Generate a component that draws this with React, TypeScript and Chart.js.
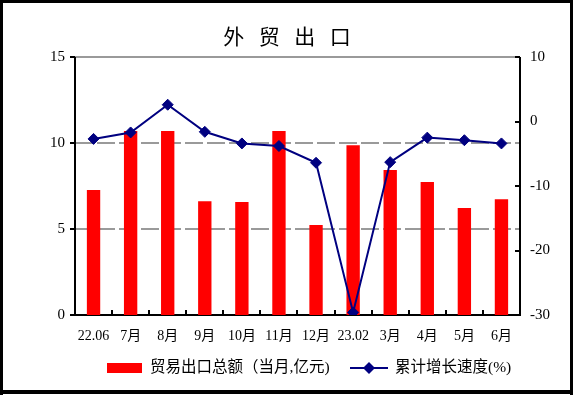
import React, { useEffect, useRef } from "react";
import { Chart, registerables } from "chart.js";

Chart.register(...registerables);

const TITLE = "外 贸 出 口";
const categories = ["22.06", "7月", "8月", "9月", "10月", "11月", "12月", "23.02", "3月", "4月", "5月", "6月"];
const exportValues = [7.27, 10.7, 10.7, 6.62, 6.57, 10.7, 5.23, 9.87, 8.43, 7.73, 6.22, 6.73];
const growthValues = [-2.7, -1.7, 2.6, -1.6, -3.4, -3.8, -6.4, -29.6, -6.3, -2.5, -2.9, -3.4];
const leftTicks = [0, 5, 10, 15];
const rightTicks = [-30, -20, -10, 0, 10];
const barLabel = "贸易出口总额（当月,亿元)";
const lineLabel = "累计增长速度(%)";

const SERIF = "'Liberation Serif', 'Noto Sans CJK SC', serif";
const CJK = "'Noto Sans CJK SC', sans-serif";
const LEGEND_FONT = "'Liberation Serif', 'Noto Sans CJK SC', serif";
const RED = "#ff0000";
const NAVY = "#000080";

const drawDiamond = (ctx: CanvasRenderingContext2D, x: number, y: number, r: number) => {
  ctx.beginPath();
  ctx.moveTo(x - r, y);
  ctx.lineTo(x, y - r);
  ctx.lineTo(x + r, y);
  ctx.lineTo(x, y + r);
  ctx.closePath();
  ctx.fill();
};

const decorPlugin = {
  id: "decor",
  beforeDatasetsDraw(chart: any) {
    const { ctx, chartArea } = chart;
    const y = chart.scales.y;
    const y1 = chart.scales.y1;
    const x = chart.scales.x;
    const { left, right, top, bottom } = chartArea;
    ctx.save();
    ctx.strokeStyle = "#9a9a9a";
    ctx.lineWidth = 2;
    ctx.setLineDash([18, 4]);
    leftTicks.forEach((v) => {
      if (v === 0 || v === 15) return;
      const py = Math.round(y.getPixelForValue(v));
      ctx.beginPath();
      ctx.moveTo(left, py);
      ctx.lineTo(right, py);
      ctx.stroke();
    });
    ctx.setLineDash([]);
    const pTop = Math.round(y.getPixelForValue(15));
    ctx.beginPath();
    ctx.moveTo(left, pTop);
    ctx.lineTo(right, pTop);
    ctx.stroke();
    ctx.strokeStyle = "#000";
    ctx.lineWidth = 2;
    ctx.beginPath();
    ctx.moveTo(left, top);
    ctx.lineTo(left, bottom);
    ctx.lineTo(right, bottom);
    ctx.lineTo(right, top);
    ctx.stroke();
    leftTicks.forEach((v) => {
      const py = Math.round(y.getPixelForValue(v));
      ctx.beginPath();
      ctx.moveTo(left - 5, py);
      ctx.lineTo(left, py);
      ctx.stroke();
    });
    rightTicks.forEach((v) => {
      const py = Math.round(y1.getPixelForValue(v));
      ctx.beginPath();
      ctx.moveTo(right - 5, py);
      ctx.lineTo(right, py);
      ctx.stroke();
    });
    const half = (x.getPixelForValue(1) - x.getPixelForValue(0)) / 2;
    for (let i = 0; i <= categories.length; i++) {
      const px = Math.round(x.getPixelForValue(i) - half);
      ctx.beginPath();
      ctx.moveTo(px, bottom);
      ctx.lineTo(px, bottom - 5);
      ctx.stroke();
    }
    ctx.restore();
  },
  afterDraw(chart: any) {
    const { ctx, width, height } = chart;
    ctx.save();
    ctx.fillStyle = "#000";
    ctx.font = `21px ${CJK}`;
    ctx.textAlign = "center";
    ctx.textBaseline = "middle";
    const chars = TITLE.split(" ");
    const step = 35.5;
    const cx = 287;
    chars.forEach((c, i) => {
      ctx.fillText(c, cx + (i - (chars.length - 1) / 2) * step, 36);
    });
    const ly = 368;
    ctx.fillStyle = RED;
    ctx.fillRect(107, ly - 5, 35, 10);
    ctx.fillStyle = "#000";
    ctx.font = `15.5px ${LEGEND_FONT}`;
    ctx.textAlign = "left";
    ctx.fillText(chart.data.datasets[1].label, 150, ly);
    ctx.strokeStyle = NAVY;
    ctx.lineWidth = 2;
    ctx.beginPath();
    ctx.moveTo(350, ly);
    ctx.lineTo(388, ly);
    ctx.stroke();
    ctx.fillStyle = NAVY;
    drawDiamond(ctx, 369, ly, 6);
    ctx.fillStyle = "#000";
    ctx.fillText(chart.data.datasets[0].label, 395, ly);
    ctx.fillStyle = "#000";
    ctx.fillRect(0, 0, width, 3);
    ctx.fillRect(0, 0, 3, height);
    ctx.fillRect(width - 3, 0, 3, height);
    ctx.fillRect(0, 390, width, 4);
    ctx.restore();
  },
};

export default function App() {
  const ref = useRef<HTMLCanvasElement | null>(null);
  useEffect(() => {
    if (!ref.current) return;
    const chart = new Chart(ref.current, {
      type: "bar",
      data: {
        labels: categories,
        datasets: [
          {
            type: "line",
            label: lineLabel,
            data: growthValues,
            yAxisID: "y1",
            borderColor: NAVY,
            backgroundColor: NAVY,
            borderWidth: 2,
            pointStyle: "rectRot",
            pointRadius: 5.5,
            pointBorderWidth: 1,
            pointBackgroundColor: NAVY,
            pointBorderColor: NAVY,
            tension: 0,
            order: 0,
          } as any,
          {
            type: "bar",
            label: barLabel,
            data: exportValues,
            yAxisID: "y",
            backgroundColor: RED,
            borderWidth: 0,
            barPercentage: 0.36,
            categoryPercentage: 1,
            order: 1,
          },
        ],
      },
      options: {
        responsive: false,
        animation: false,
        layout: { padding: { top: 57, bottom: 50, left: 0, right: 0 } },
        plugins: {
          legend: { display: false },
          title: { display: false },
          tooltip: { enabled: false },
        },
        scales: {
          x: {
            offset: true,
            grid: { display: false },
            border: { display: false },
            ticks: {
              color: "#000",
              font: { family: SERIF, size: 14 },
              padding: 5,
              autoSkip: false,
              maxRotation: 0,
            },
            afterFit: (s: any) => {
              s.height = 30;
            },
          },
          y: {
            position: "left",
            min: 0,
            max: 15,
            grid: { display: false, drawTicks: false },
            border: { display: false },
            ticks: {
              stepSize: 5,
              color: "#000",
              font: { family: SERIF, size: 15 },
              padding: 10,
            },
            afterFit: (s: any) => {
              s.width = 75;
            },
          },
          y1: {
            position: "right",
            min: -30,
            max: 10,
            grid: { display: false, drawTicks: false },
            border: { display: false },
            ticks: {
              stepSize: 10,
              color: "#000",
              font: { family: SERIF, size: 15 },
              padding: 10,
            },
            afterFit: (s: any) => {
              s.width = 53;
            },
          },
        },
      } as any,
      plugins: [decorPlugin],
    });
    return () => chart.destroy();
  }, []);
  return (
    <div style={{ position: "fixed", left: 0, top: 0, width: 573, height: 395, background: "#fff" }}>
      <canvas ref={ref} width={573} height={395} style={{ display: "block" }} />
    </div>
  );
}
